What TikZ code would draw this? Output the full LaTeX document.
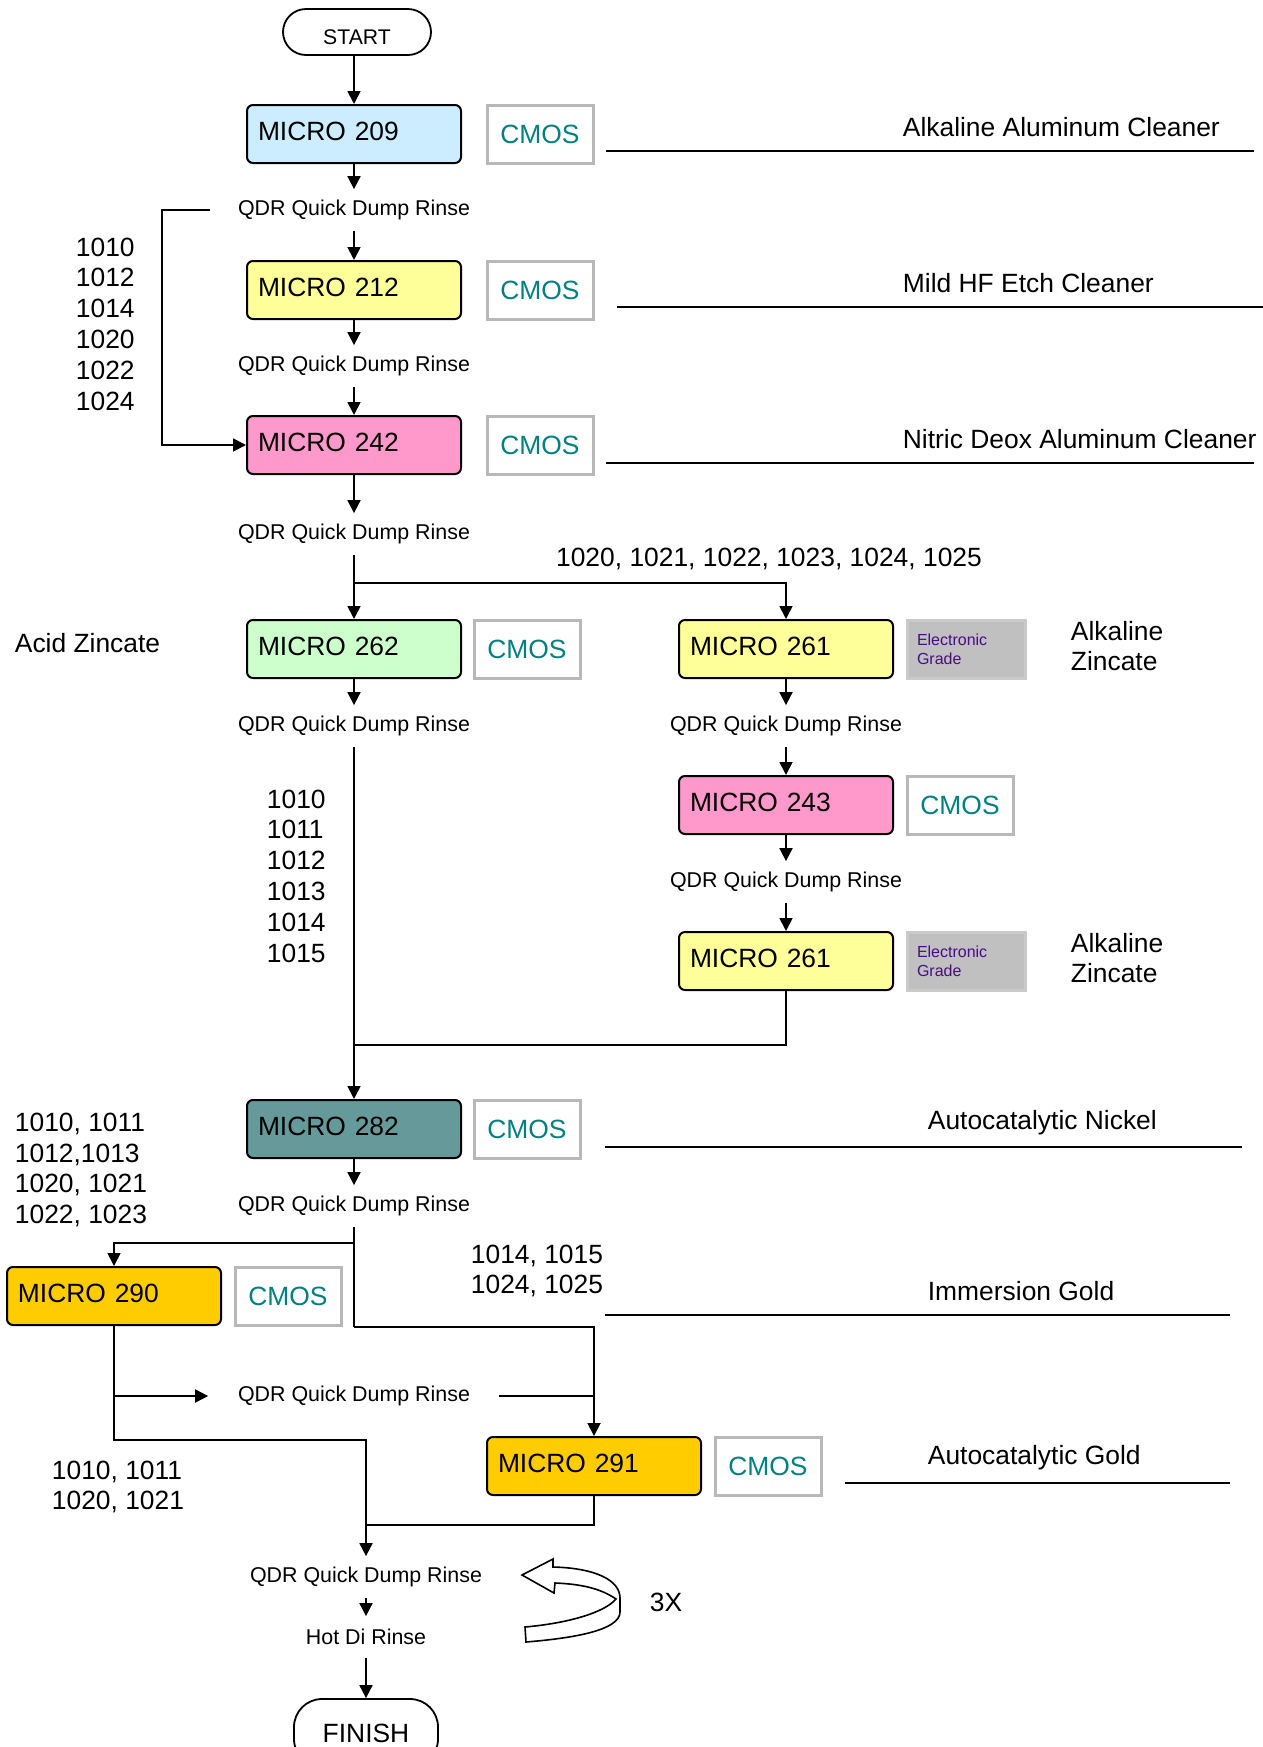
\documentclass[tikz,border=0pt]{standalone}
\usepackage{fontspec}
\setmainfont{Liberation Sans}
\usetikzlibrary{arrows.meta}

\definecolor{cmosteal}{HTML}{008080}
\definecolor{cmosframe}{HTML}{B8B8B8}
\definecolor{egpurple}{HTML}{4B0C82}
\definecolor{egfill}{HTML}{C0C0C0}
\definecolor{egframe}{HTML}{CACACA}
\definecolor{fillblue}{HTML}{CCECFF}
\definecolor{fillyellow}{HTML}{FFFF99}
\definecolor{fillpink}{HTML}{FF99CC}
\definecolor{fillgreen}{HTML}{CCFFCC}
\definecolor{fillteal}{HTML}{669999}
\definecolor{fillgold}{HTML}{FFCC00}

\newcommand{\txtmain}{\fontsize{13.2}{15.4}\selectfont}
\newcommand{\txtqdr}{\fontsize{10.7}{12.5}\selectfont}
\newcommand{\txtsmall}{\fontsize{8}{9.5}\selectfont}

\begin{document}
\begin{tikzpicture}[x=0.5pt, y=-0.5pt, line width=0.9pt,
		>={Triangle[length=6.5pt,width=6.5pt]},
		micro/.style={draw, rounded corners=3pt, line width=1pt, minimum width=107pt,
			minimum height=29pt, text width=96pt, inner xsep=5.5pt, align=left,
			text height=9.5pt, text depth=3.5pt, font=\txtmain},
		cmos/.style={draw=cmosframe, line width=1.5pt, minimum width=53pt, minimum height=29pt,
			text=cmosteal, font=\txtmain},
		egbox/.style={draw=egframe, fill=egfill, line width=1.5pt, minimum width=59pt,
			minimum height=29pt, text width=49pt, inner xsep=5pt, align=left,
			text=egpurple, font=\txtsmall},
		rinse/.style={inner sep=0pt, minimum height=20pt, font=\txtqdr},
		terminal/.style={draw, rounded corners=11.5pt, minimum width=74pt, minimum height=23pt},
		note/.style={inner sep=0pt, anchor=west, align=left, font=\txtmain}]
		\useasboundingbox (0,0) rectangle (1263,1747);
		
		\node[terminal, text height=12.5pt, text depth=0pt,
			font=\fontsize{10.6}{12}\selectfont] (start) at (357,32) {START};
		
		\node[micro, fill=fillblue] (m209) at (354,134) {MICRO 209};
		\node[cmos] (c209) at (540,134) {CMOS};
		\node[rinse] (q1) at (354,210) {QDR Quick Dump Rinse};
		
		\node[micro, fill=fillyellow] (m212) at (354,290) {MICRO 212};
		\node[cmos] (c212) at (540,290) {CMOS};
		\node[rinse] (q2) at (354,366) {QDR Quick Dump Rinse};
		
		\node[micro, fill=fillpink] (m242) at (354,445) {MICRO 242};
		\node[cmos] (c242) at (540,445) {CMOS};
		\node[rinse] (q3) at (354,534) {QDR Quick Dump Rinse};
		
		\node[micro, fill=fillgreen] (m262) at (354,649) {MICRO 262};
		\node[cmos] (c262) at (527,649) {CMOS};
		\node[rinse] (q4) at (354,726) {QDR Quick Dump Rinse};
		
		\node[micro, fill=fillyellow] (m261a) at (786,649) {MICRO 261};
		\node[egbox] (e261a) at (966,649) {Electronic\\Grade};
		\node[rinse] (q5) at (786,726) {QDR Quick Dump Rinse};
		
		\node[micro, fill=fillpink] (m243) at (786,805) {MICRO 243};
		\node[cmos] (c243) at (960,805) {CMOS};
		\node[rinse] (q6) at (786,882) {QDR Quick Dump Rinse};
		
		\node[micro, fill=fillyellow] (m261b) at (786,961) {MICRO 261};
		\node[egbox] (e261b) at (966,961) {Electronic\\Grade};
		
		\node[micro, fill=fillteal] (m282) at (354,1129) {MICRO 282};
		\node[cmos] (c282) at (527,1129) {CMOS};
		\node[rinse] (q7) at (354,1206) {QDR Quick Dump Rinse};
		
		\node[micro, fill=fillgold] (m290) at (114,1296) {MICRO 290};
		\node[cmos] (c290) at (288,1296) {CMOS};
		\node[rinse] (q8) at (354,1396) {QDR Quick Dump Rinse};
		
		\node[micro, fill=fillgold] (m291) at (594,1466) {MICRO 291};
		\node[cmos] (c291) at (768,1466) {CMOS};
		
		\node[rinse] (q9) at (366,1577) {QDR Quick Dump Rinse};
		\node[rinse] (hot) at (366,1637) {Hot Di Rinse};
		\node[terminal, minimum width=72pt, minimum height=34pt, rounded corners=14pt,
			font=\fontsize{13.2}{15}\selectfont] (finish) at (366,1733) {FINISH};
		
		%========================================================================
		% Labels
		\node[note] (l209) at (902,127) {Alkaline Aluminum Cleaner};
		\node[note] (l212) at (902,283) {Mild HF Etch Cleaner};
		\node[note] (l242) at (902,439) {Nitric Deox Aluminum Cleaner};
		\node[note] (lacid) at (14,643) {Acid Zincate};
		\node[note] (lalka) at (1070,646) {Alkaline\\Zincate};
		\node[note] (lalkb) at (1070,958) {Alkaline\\Zincate};
		\node[note] (l282) at (927,1123) {Autocatalytic Nickel};
		\node[note] (l290) at (927,1291) {Immersion Gold};
		\node[note] (l291) at (927,1458) {Autocatalytic Gold};
		
		\node[note] (n1) at (75,324) {1010\\1012\\1014\\1020\\1022\\1024};
		\node[note, anchor=center] (n2) at (769,559) {1020, 1021, 1022, 1023, 1024, 1025};
		\node[note] (n3) at (266,876) {1010\\1011\\1012\\1013\\1014\\1015};
		\node[note] (n4) at (14,1170) {1010, 1011\\1012,1013\\1020, 1021\\1022, 1023};
		\node[note] (n5) at (470,1271) {1014, 1015\\1024, 1025};
		\node[note] (n6) at (51,1487) {1010, 1011\\1020, 1021};
		\node[note, anchor=center] (times) at (666,1602) {3X};
		
		\draw[line width=0.8pt] (606,151) -- (1254,151);
		\draw[line width=0.8pt] (617,307) -- (1263,307);
		\draw[line width=0.8pt] (606,463) -- (1254,463);
		\draw[line width=0.8pt] (605,1147) -- (1242,1147);
		\draw[line width=0.8pt] (605,1315) -- (1230,1315);
		\draw[line width=0.8pt] (845,1483) -- (1230,1483);
		
		% repeat arrow
		\draw[line width=0.8pt, fill=white] (522,1575) -- (553,1559) -- (553,1567)
			.. controls (595,1568) and (620,1580) .. (620,1598) -- (620,1612)
			.. controls (620,1630) and (575,1638) .. (526,1642) -- (525,1627)
			.. controls (570,1623) and (605,1612) .. (616,1599)
			.. controls (600,1588) and (580,1584) .. (555,1583) -- (554,1593) -- cycle;
		
		%========================================================================
		% Arrows
		\coordinate (s1) at (354,583);
		\coordinate (j1) at (354,1045);
		\coordinate (j2) at (354,1243);
		\coordinate (j3) at (354,1327);
		\coordinate (j4) at (366,1440);
		\coordinate (j6) at (366,1525);
		
		\draw[->] (start.south -| m209.north) to (m209.north);
		\draw[->] (m209) to (q1);
		\draw[->] (q1) to (m212);
		\draw[->] (m212) to (q2);
		\draw[->] (q2) to (m242);
		\draw[->] ([xshift=-13.5pt]q1.west) -- ++(-48,0) |- (m242.west);
		\draw[->] (m242) to (q3);
		\draw[->] (q3.south) to (m262.north);
		\draw[->] (s1) -| (m261a.north);
		\draw[->] (m262) to (q4);
		\draw[->] (m261a) to (q5);
		\draw[->] (q5) to (m243);
		\draw[->] (m243) to (q6);
		\draw[->] (q6) to (m261b);
		\draw[-] (m261b.south) |- (j1);
		\draw[->] (q4.south) to (m282.north);
		\draw[->] (m282) to (q7);
		\draw[-] (q7.south) -- (j3);
		\draw[->] (j2) -| (m290.north);
		\draw[->] (j3) -| (m291.north);
		\draw[->] (m290.south |- q8.west) -- ([xshift=-14.5pt]q8.west);
		\draw[-] ([xshift=14pt]q8.east) -- (m291.north |- q8.east);
		\draw[->] (m290.south) |- (j4) -- (q9.north);
		\draw[-] (m291.south) |- (j6);
		\draw[->] (q9) to (hot);
		\draw[->] (hot) to (finish);
	\end{tikzpicture}
\end{document}
